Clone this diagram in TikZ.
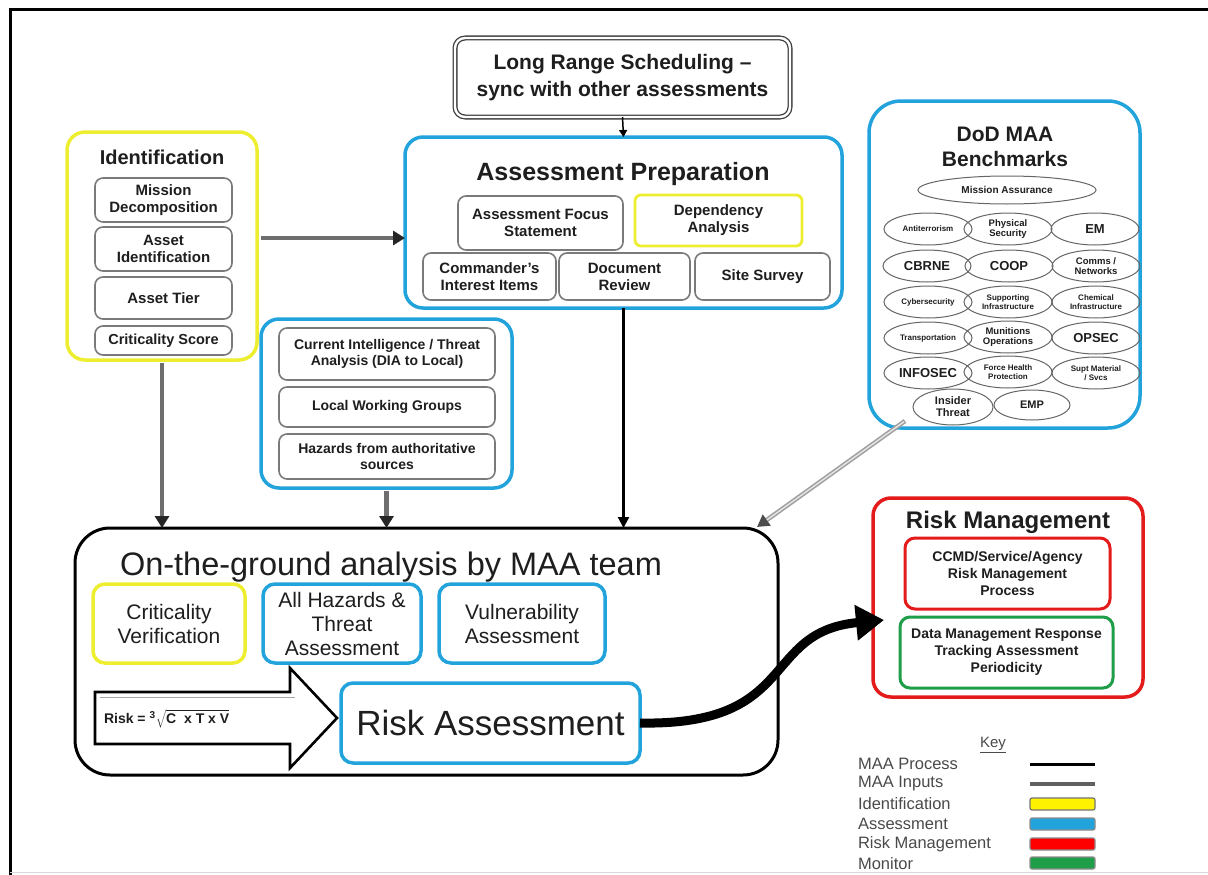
\documentclass[tikz,border=0pt]{standalone}
\usepackage{fontspec}
\setmainfont{Liberation Sans}
\usetikzlibrary{arrows.meta,shapes.geometric}
\definecolor{blueC}{HTML}{22A3DC}
\definecolor{yellowC}{HTML}{EEEE30}
\definecolor{redC}{HTML}{E31B1B}
\definecolor{greenC}{HTML}{1E9E48}
\definecolor{inkC}{HTML}{1E1E1E}
\definecolor{subC}{HTML}{7A7A7A}
\definecolor{inpC}{HTML}{6E6E6E}
\definecolor{keyC}{HTML}{4A4A4A}
\newcommand{\mybox}[7]{\node[#1, minimum width={#5-#3}, minimum height={#6-#4}] (#2) at ({(#3+#5)/2},{(#4+#6)/2}) {#7};}
\newcommand{\fs}[2]{\fontsize{#1}{#2}\selectfont}
\begin{document}
\begin{tikzpicture}[x=1pt,y=-1pt,
 every node/.style={inner sep=0pt, outer sep=0pt, text=inkC, align=center},
 bigframe/.style={draw, line width=3.5pt, rounded corners=18pt},
 bluebig/.style={bigframe, draw=blueC},
 yellowbig/.style={bigframe, draw=yellowC},
 redbig/.style={bigframe, draw=redC},
 subbox/.style={draw=subC, line width=1.6pt, rounded corners=8pt, font=\bfseries\fs{15}{17}},
 depbox/.style={draw=yellowC, line width=2.8pt, rounded corners=6pt, font=\bfseries\fs{15}{17}},
 intelbox/.style={subbox, font=\bfseries\fs{14}{16}},
 lrsbox/.style={draw=black!75, line width=1.3pt, double=white, double distance=2.4pt, rounded corners=10pt, font=\bfseries\fs{21}{27}},
 titleB/.style={font=\bfseries\fs{25}{28}},
 titleM/.style={font=\bfseries\fs{20}{23}},
 ell/.style={ellipse, draw=black!60, line width=1pt, minimum width=88pt, minimum height=32pt, font=\bfseries\fs{8}{9}},
 ellbig/.style={ell, font=\bfseries\fs{13}{14}},
 ellmid/.style={ell, font=\bfseries\fs{9.5}{10.5}},
 ogframe/.style={draw=black, line width=3pt, rounded corners=35pt},
 ogyellow/.style={draw=yellowC, line width=3.5pt, rounded corners=12pt, font=\fs{21}{24}},
 ogblue/.style={draw=blueC, line width=3.5pt, rounded corners=12pt, font=\fs{21}{24}},
 rabox/.style={draw=blueC, line width=3.5pt, rounded corners=12pt, fill=white, font=\fs{35}{38}},
 rmred/.style={draw=redC, line width=3pt, rounded corners=10pt, font=\bfseries\fs{14}{17}},
 rmgreen/.style={draw=greenC, line width=3pt, rounded corners=10pt, font=\bfseries\fs{14}{17}},
 blkA/.style={draw=black, line width=2.2pt, -{Triangle[length=11pt,width=11pt]}},
 smallA/.style={draw=black, line width=1.5pt, -{Triangle[length=7pt,width=8pt]}},
 inpA/.style={draw=inpC, line width=4.5pt, -{Triangle[length=12pt,width=14pt,color=black!85]}},
 keytext/.style={anchor=west, text=keyC, font=\fs{16.5}{18}},
]
\useasboundingbox (0,0) rectangle (1208,875);
\fill[white] (0,0) rectangle (1208,875);
% page frame
\draw[line width=3pt] (10,875) -- (10,10) -- (1208,10);
\draw[line width=1pt, black!15] (10,872) -- (1208,872);

% Long range scheduling
\mybox{lrsbox}{lrs}{455}{38}{790}{117}{Long Range Scheduling --\\sync with other assessments}

% Assessment preparation
\mybox{bluebig}{prep}{405}{137}{842}{308}{}
\node[titleB, anchor=base] (preptitle) at (623,180) {Assessment Preparation};
\mybox{subbox}{afs}{458}{196}{623}{250}{Assessment Focus\\Statement}
\mybox{depbox}{dep}{635}{195}{802}{246}{Dependency\\Analysis}
\mybox{subbox}{cii}{423}{253}{556}{300}{Commander's\\Interest Items}
\mybox{subbox}{docr}{559}{253}{690}{300}{Document\\Review}
\mybox{subbox}{site}{695}{253}{830}{300}{Site Survey}

% Identification
\mybox{yellowbig}{ident}{67}{132}{257}{360}{}
\node[titleM, anchor=base] (identtitle) at (162,164) {Identification};
\mybox{subbox}{md}{95}{178}{232}{222}{Mission\\Decomposition}
\mybox{subbox}{ai}{95}{227}{232}{271}{Asset\\Identification}
\mybox{subbox}{at}{95}{277}{232}{319}{Asset Tier}
\mybox{subbox}{cs}{95}{326}{232}{355}{\fs{14.5}{17}Criticality Score}

% Intelligence inputs
\mybox{bluebig}{intel}{261}{319}{512}{488}{}
\mybox{intelbox}{cit}{279}{328}{495}{380}{Current Intelligence / Threat\\Analysis (DIA to Local)}
\mybox{intelbox}{lwg}{279}{387}{495}{427}{Local Working Groups}
\mybox{intelbox}{haz}{279}{434}{495}{479}{Hazards from authoritative\\sources}

% Benchmarks
\mybox{bluebig, rounded corners=32pt}{bench}{869}{101}{1140}{428}{}
\node[font=\bfseries\fs{21}{25}] (benchtitle) at (1005,147) {DoD MAA\\Benchmarks};
\node[ell, minimum width=178pt, minimum height=28pt, font=\bfseries\fs{10}{11}] (e0) at (1007,190) {Mission Assurance};
\node[ell] (e11) at (928,229) {Antiterrorism};
\node[ellmid] (e12) at (1008,229) {Physical\\Security};
\node[ellbig] (e13) at (1095,229) {EM};
\node[ellbig] (e21) at (927,266) {CBRNE};
\node[ellbig] (e22) at (1009,266) {COOP};
\node[ellmid] (e23) at (1096,266) {Comms /\\Networks};
\node[ell] (e31) at (928,302) {Cybersecurity};
\node[ell] (e32) at (1008,302) {Supporting\\Infrastructure};
\node[ell] (e33) at (1096,302) {Chemical\\Infrastructure};
\node[ell] (e41) at (928,338) {Transportation};
\node[ellmid] (e42) at (1008,337) {Munitions\\Operations};
\node[ellbig] (e43) at (1096,338) {OPSEC};
\node[ellbig] (e51) at (928,373) {INFOSEC};
\node[ell] (e52) at (1008,372) {Force Health\\Protection};
\node[ell] (e53) at (1096,373) {Supt Material\\/ Svcs};
\node[ell, minimum width=80pt, minimum height=36pt, font=\bfseries\fs{11}{12}] (e61) at (953,407) {Insider\\Threat};
\node[ell, minimum width=76pt, minimum height=30pt, font=\bfseries\fs{11}{12}] (e62) at (1032,405) {EMP};

% On-the-ground analysis
\mybox{ogframe}{og}{75}{528}{778}{775}{}
\node[anchor=base west, font=\fs{32.5}{35}] (ogtitle) at (120,575) {On-the-ground analysis by MAA team};
\mybox{ogyellow}{cv}{93}{584}{245}{663}{Criticality\\Verification}
\mybox{ogblue}{aht}{263}{584}{421}{663}{All Hazards \&\\Threat\\Assessment}
\mybox{ogblue}{va}{439}{584}{605}{663}{Vulnerability\\Assessment}
\draw[line width=2.6pt, fill=white, line join=miter] (95,692) -- (290,692) -- (290,668) -- (337,718) -- (290,768) -- (290,744) -- (95,744) -- cycle;
\draw[line width=1pt, black!35] (100,697) -- (295,697);
\node[anchor=west, font=\bfseries\fs{14}{16}] (formula) at (104,719) {Risk =\hspace{4pt}\raisebox{5pt}{\fs{10}{10}3}\hspace{1pt}$\sqrt{\vphantom{\Big|}\textbf{C\ \ x\ T\ x\ V}}$};
\mybox{rabox}{ra}{341}{683}{640}{763}{Risk Assessment}

% Risk management
\mybox{redbig}{rm}{873}{498}{1143}{697}{}
\node[font=\bfseries\fs{24}{26}, anchor=base] (rmtitle) at (1008,528) {Risk Management};
\mybox{rmred}{ccmd}{905}{538}{1110}{609}{CCMD/Service/Agency\\Risk Management\\Process}
\mybox{rmgreen}{dmr}{900}{617}{1113}{688}{Data Management Response\\Tracking Assessment\\Periodicity}

% connectors
\draw[smallA] (lrs.south) -- (prep.north);
\coordinate (ipy) at (0,238);
\draw[inpA, shorten <=4pt] (ident.east |- ipy) -- (prep.west |- ipy);
\draw[inpA, shorten <=3pt] (ident.south) -- (og.north -| ident.south);
\draw[inpA, shorten <=3pt] (intel.south) -- (og.north -| intel.south);
\draw[blkA] (prep.south) -- (og.north -| prep.south);
\coordinate (bstart) at (905,421);
\coordinate (ogne) at (757,527);
\draw[draw=gray!75, line width=4.5pt, -{Triangle[length=12pt,width=13pt,color=black!70]}] (bstart) -- (ogne);
\draw[draw=white!80!gray, line width=1.4pt, shorten >=12pt, shorten <=1pt] (bstart) -- (ogne);
\coordinate (rmtip) at (884,620);
\draw[line width=9pt, -{Triangle[length=28pt,width=34pt]}] (ra.east) .. controls (800,726) and (760,632) .. (rmtip);

% Key
\node[font=\fs{15}{17}, text=keyC] (keytitle) at (993,745) {\underline{Key}};
\node[keytext] (k1) at (858,764) {MAA Process};
\node[keytext] (k2) at (858,784) {MAA Inputs};
\node[keytext] (k3) at (858,804) {Identification};
\node[keytext] (k4) at (858,824) {Assessment};
\node[keytext] (k5) at (858,844) {Risk Management};
\node[keytext] (k6) at (858,864) {Monitor};
\draw[line width=3pt, black] (1030,764) -- (1095,764);
\draw[line width=4pt, gray!75!black] (1030,784) -- (1095,784);
\draw[draw=black!55, line width=1.2pt, fill=yellow, rounded corners=2pt] (1030,798) rectangle (1095,810);
\draw[draw=black!45, line width=1.2pt, fill=blueC, rounded corners=2pt] (1030,818) rectangle (1095,830);
\draw[draw=black!45, line width=1.2pt, fill=red, rounded corners=2pt] (1030,838) rectangle (1095,850);
\draw[draw=black!45, line width=1.2pt, fill=greenC, rounded corners=2pt] (1030,857) rectangle (1095,869);
\end{tikzpicture}
\end{document}
